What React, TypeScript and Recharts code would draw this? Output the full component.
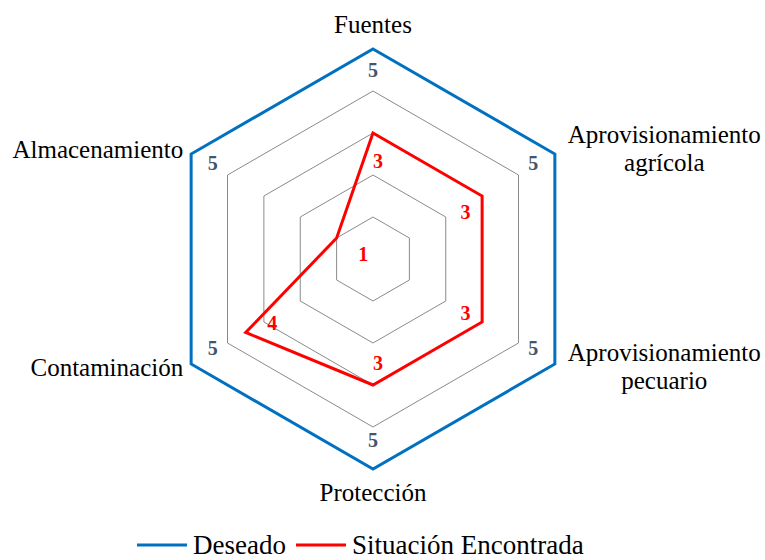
import { RadarChart, Radar, PolarGrid, PolarAngleAxis, PolarRadiusAxis, Legend } from "recharts"

const categories = [
  "Fuentes",
  "Aprovisionamiento agrícola",
  "Aprovisionamiento pecuario",
  "Protección",
  "Contaminación",
  "Almacenamiento",
]
const deseado = [5, 5, 5, 5, 5, 5]
const situacion = [3, 3, 3, 3, 3.5, 1]

const data = categories.map((c, i) => ({ categoria: c, deseado: deseado[i], situacion: situacion[i] }))

const W = 765
const H = 560
const CX = 373
const CY = 259
const R = 210
const BLUE = "#0070C0"
const RED = "#FF0000"
const FONT = '"Liberation Serif", "Times New Roman", serif'

let ctx: CanvasRenderingContext2D | null = null
function textWidth(s: string, size: number) {
  if (!ctx) ctx = document.createElement("canvas").getContext("2d")
  if (!ctx) return s.length * size * 0.45
  ctx.font = `${size}px "Liberation Serif"`
  return ctx.measureText(s).width
}

function AngleTick(props: any) {
  const { x, y, payload, textAnchor } = props
  const size = 25
  const label = String(payload.value)
  if (textAnchor === "middle") {
    const dy = y < CY ? -8 : 24
    return (
      <text x={x} y={y + dy} textAnchor="middle" fontSize={size} fill="#000" fontFamily={FONT}>
        {label}
      </text>
    )
  }
  const words = label.split(" ")
  if (words.length > 1) {
    const maxW = Math.max(...words.map((w) => textWidth(w, size)))
    const mid = textAnchor === "start" ? x + 6 + maxW / 2 : x - 1 - maxW / 2
    return (
      <text textAnchor="middle" fontSize={size} fill="#000" fontFamily={FONT}>
        {words.map((w, i) => (
          <tspan key={i} x={mid} y={y - 7 + i * 28}>
            {w}
          </tspan>
        ))}
      </text>
    )
  }
  return (
    <text x={textAnchor === "start" ? x + 6 : x - 1} y={y + 8} textAnchor={textAnchor} fontSize={size} fill="#000" fontFamily={FONT}>
      {label}
    </text>
  )
}

// value labels drawn through the dot renderer, pushed toward the centre
const makeLabel = (color: string, dist: number, nudgeX: number, lift: number, values: number[]) => (props: any) => {
  const { cx, cy, index } = props
  const dx = CX - cx
  const dy = CY - cy
  const len = Math.hypot(dx, dy) || 1
  const v = props.payload?.value ?? values[index]
  return (
    <text
      key={`lbl-${index}`}
      x={cx + (dx / len) * dist + nudgeX}
      y={cy + (dy / len) * dist - lift}
      textAnchor="middle"
      dominantBaseline="central"
      fontSize={20}
      fontWeight="bold"
      fill={color}
      fontFamily={FONT}
    >
      {Math.round(v)}
    </text>
  )
}

function LegendContent(props: any) {
  const items = props.payload && props.payload.length
    ? props.payload.map((p: any) => ({ name: p.value, color: p.color }))
    : [
        { name: "Deseado", color: BLUE },
        { name: "Situación Encontrada", color: RED },
      ]
  return (
    <div style={{ display: "flex", alignItems: "center", paddingLeft: 137, fontFamily: FONT, fontSize: 27, lineHeight: "24px", color: "#000" }}>
      {items.map((it: any) => (
        <div key={it.name} style={{ display: "flex", alignItems: "center", marginRight: 10 }}>
          <svg width={50} height={4}>
            <line x1={0} y1={2} x2={50} y2={2} stroke={it.color} strokeWidth={3} />
          </svg>
          <span style={{ marginLeft: 6 }}>{it.name}</span>
        </div>
      ))}
    </div>
  )
}

export default function App() {
  return (
    <div style={{ position: "absolute", left: 0, top: 0, width: W, height: H, fontFamily: FONT }}>
      <RadarChart width={W} height={H} data={data} cx={CX} cy={CY} outerRadius={R} margin={{ top: 0, right: 0, bottom: 0, left: 0 }}>
        <PolarGrid gridType="polygon" radialLines={false} stroke="#8a8a8a" strokeWidth={1} />
        <PolarAngleAxis dataKey="categoria" tick={<AngleTick />} tickLine={false} axisLine={false} />
        <PolarRadiusAxis domain={[0, 5]} tickCount={6} tick={false} axisLine={false} />
        <Radar
          name="Deseado"
          dataKey="deseado"
          stroke={BLUE}
          strokeWidth={3}
          fill="none"
          fillOpacity={0}
          dot={makeLabel("#44546A", 25, 0, 4, deseado)}
          isAnimationActive={false}
          legendType="line"
        />
        <Radar
          name="Situación Encontrada"
          dataKey="situacion"
          stroke={RED}
          strokeWidth={3}
          fill="none"
          fillOpacity={0}
          dot={makeLabel(RED, 25, 5, -3, situacion)}
          isAnimationActive={false}
          legendType="line"
        />
        <Legend
          verticalAlign="bottom"
          content={<LegendContent />}
          wrapperStyle={{ top: 533, bottom: "auto", left: 0, width: W }}
        />
      </RadarChart>
    </div>
  )
}
